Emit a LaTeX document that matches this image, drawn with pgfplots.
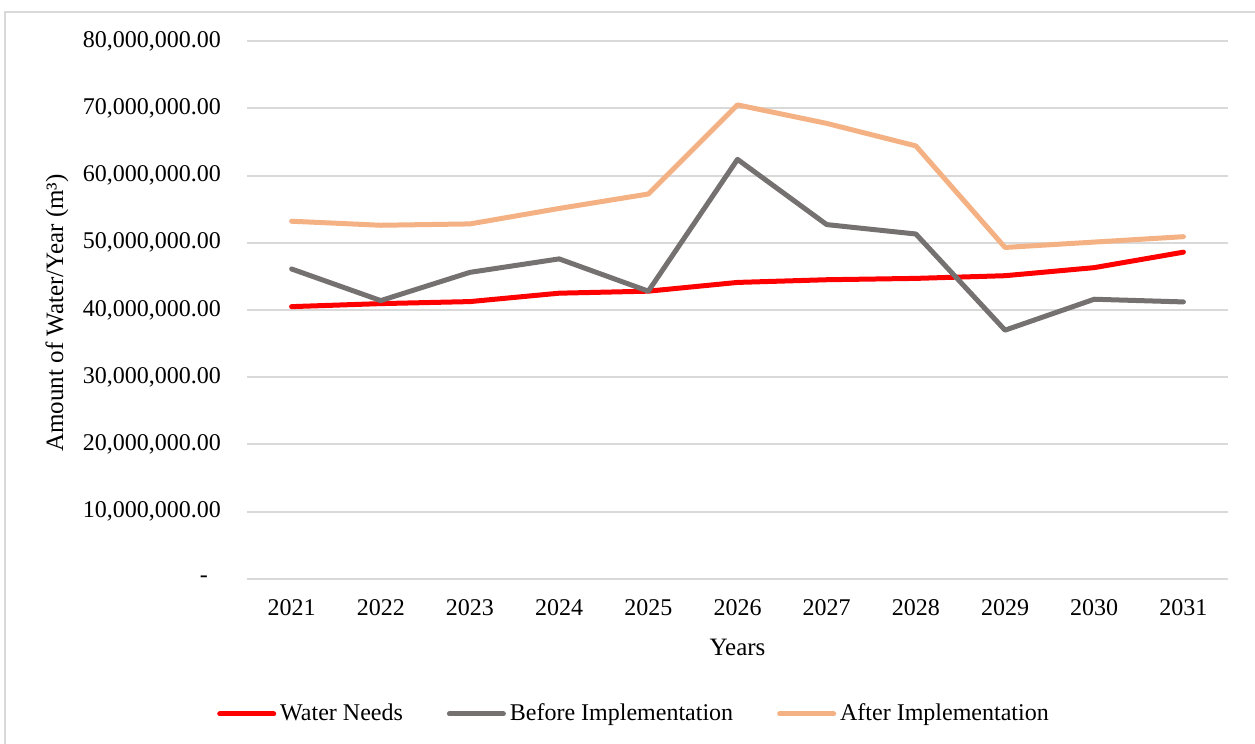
\documentclass[border=0pt]{standalone}
\usepackage{fontspec}
\setmainfont{Liberation Serif}
\usepackage{pgfplots}
\pgfplotsset{compat=1.18}
\definecolor{needs}{RGB}{255,0,0}
\definecolor{before}{RGB}{118,113,113}
\definecolor{after}{RGB}{244,177,131}
\definecolor{gridc}{RGB}{217,217,217}
\begin{document}
\begin{tikzpicture}[x=0.5pt,y=0.5pt]
\useasboundingbox (0,0) rectangle (1255,744);
\draw[gridc, line width=1pt] (4.5,0) -- (4.5,732) -- (1255,732);
\begin{axis}[
  at={(123.5pt,82.5pt)}, anchor=south west,
  scale only axis, width=490.5pt, height=269pt,
  xmin=0.5, xmax=11.5, ymin=0, ymax=80000000,
  xtick={1,...,11},
  xticklabels={2021,2022,2023,2024,2025,2026,2027,2028,2029,2030,2031},
  ytick={0,10000000,20000000,30000000,40000000,50000000,60000000,70000000,80000000},
  yticklabels={{-\kern6.5pt},{10,000,000.00},{20,000,000.00},{30,000,000.00},{40,000,000.00},{50,000,000.00},{60,000,000.00},{70,000,000.00},{80,000,000.00}},
  scaled y ticks=false,
  axis line style={draw=none},
  tick style={draw=none},
  ymajorgrids, grid style={gridc, line width=1pt},
  yticklabel style={anchor=east, xshift=-9.5pt, font=\fontsize{12}{14}\selectfont},
  xticklabel style={yshift=-6.5pt, font=\fontsize{12}{14}\selectfont},
  xlabel={Years}, ylabel={Amount of Water/Year (m³)},
  label style={font=\fontsize{12.5}{14}\selectfont},
  xlabel style={at={(axis description cs:0.5,0)}, anchor=center, yshift=-34pt},
  ylabel style={at={(axis description cs:-0.1937,0.5)}, anchor=center, yshift=0pt, xshift=-1.5pt},
  legend style={at={(194pt,-67.5pt)}, anchor=center, draw=none, fill=none,
    legend columns=3, font=\fontsize{12}{14}\selectfont,
    /tikz/every even column/.append style={column sep=20pt}},
  legend cell align=left,
  legend image code/.code={\draw[#1, line cap=round] (0pt,0pt) -- (27pt,0pt);},
  clip=false,
]
\addplot[needs, line width=2.5pt, line join=round, line cap=round] coordinates {
(1,40500000) (2,40950000) (3,41250000) (4,42500000) (5,42800000) (6,44100000)
(7,44500000) (8,44700000) (9,45100000) (10,46300000) (11,48600000)};
\addlegendentry{Water Needs}
\addplot[before, line width=2.5pt, line join=round, line cap=round] coordinates {
(1,46100000) (2,41400000) (3,45600000) (4,47600000) (5,42800000) (6,62400000)
(7,52700000) (8,51300000) (9,37000000) (10,41600000) (11,41200000)};
\addlegendentry{Before Implementation}
\addplot[after, line width=2.5pt, line join=round, line cap=round] coordinates {
(1,53200000) (2,52600000) (3,52800000) (4,55100000) (5,57250000) (6,70500000)
(7,67750000) (8,64400000) (9,49300000) (10,50100000) (11,50900000)};
\addlegendentry{After Implementation}
\end{axis}
\end{tikzpicture}
\end{document}
